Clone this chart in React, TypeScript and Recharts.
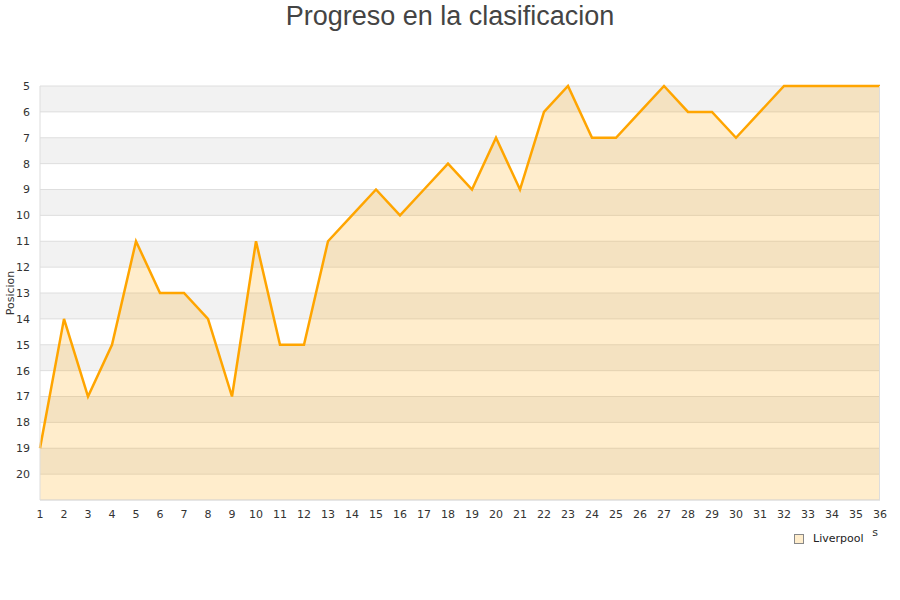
import React from 'react';
import { ComposedChart, Area, XAxis, YAxis, CartesianGrid } from 'recharts';

const jornadas = [1,2,3,4,5,6,7,8,9,10,11,12,13,14,15,16,17,18,19,20,21,22,23,24,25,26,27,28,29,30,31,32,33,34,35,36];
const posiciones = [19,14,17,15,11,13,13,14,17,11,15,15,11,10,9,10,9,8,9,7,9,6,5,7,7,6,5,6,6,7,6,5,5,5,5,5];
const yTicks = [5,6,7,8,9,10,11,12,13,14,15,16,17,18,19,20];
const seriesName = 'Liverpool';
const title = 'Progreso en la clasificacion';
const yTitle = 'Posicion';
const xTitleFragment = 's';

const data = jornadas.map((j, i) => ({ jornada: j, pos: posiciones[i] }));

const tickStyle = { fontSize: 11, fill: '#333', fontFamily: 'DejaVu Sans' };

export default function App() {
  return (
    <div style={{ position: 'absolute', left: 0, top: 0, width: 900, height: 600, background: '#fff' }}>
      <ComposedChart width={900} height={600} data={data} margin={{ top: 86, right: 20, bottom: 70, left: 0 }}>
        <CartesianGrid vertical={false} stroke="#dedede" horizontalFill={['#f2f2f2', '#ffffff']} fillOpacity={1} />
        <XAxis
          dataKey="jornada"
          type="number"
          domain={[1, 36]}
          ticks={jornadas}
          interval={0}
          height={30}
          tickLine={false}
          axisLine={{ stroke: '#ddd' }}
          tick={tickStyle}
          tickMargin={4}
        />
        <YAxis
          type="number"
          domain={[5, 21]}
          reversed
          ticks={yTicks}
          interval={0}
          width={40}
          tickLine={false}
          axisLine={{ stroke: '#ddd' }}
          tick={tickStyle}
          tickMargin={4}
        />
        <Area
          type="linear"
          dataKey="pos"
          name={seriesName}
          baseValue={21}
          stroke="#ffa500"
          strokeWidth={2.5}
          fill="#ffa500"
          fillOpacity={0.2}
          dot={false}
          activeDot={false}
          isAnimationActive={false}
        />
      </ComposedChart>
      <div style={{ position: 'absolute', left: 0, top: 0, width: 900, textAlign: 'center', fontFamily: 'Liberation Sans', fontSize: 27, color: '#444', lineHeight: '32px' }}>
        {title}
      </div>
      <div style={{ position: 'absolute', left: 879, top: 86, width: 1, height: 414, background: '#ddd' }} />
      <svg style={{ position: 'absolute', left: 0, top: 0, pointerEvents: 'none' }} width={900} height={600}>
        <text x={14} y={293} transform="rotate(-90 14 293)" textAnchor="middle" style={{ fontSize: 11, fill: '#333', fontFamily: 'DejaVu Sans' }}>{yTitle}</text>
        <text x={875} y={536} textAnchor="middle" style={{ fontSize: 11, fill: '#333', fontFamily: 'DejaVu Sans' }}>{xTitleFragment}</text>
      </svg>
      <div style={{ position: 'absolute', left: 794, top: 532, display: 'flex', alignItems: 'center', fontFamily: 'DejaVu Sans', fontSize: 11, color: '#222' }}>
        <span style={{ display: 'inline-block', width: 8, height: 8, background: '#ffedcc', border: '1px solid #888', marginRight: 9 }} />
        <span>{seriesName}</span>
      </div>
    </div>
  );
}
